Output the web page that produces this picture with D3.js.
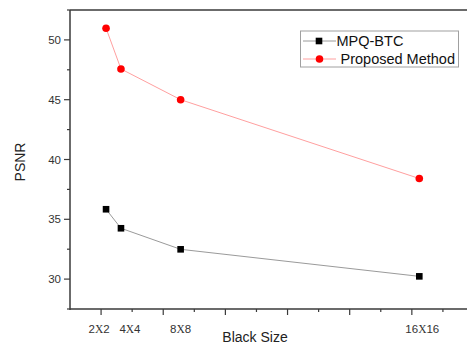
<!DOCTYPE html>
<html lang="en">
<head>
  <meta charset="UTF-8">
  <script src="https://d3js.org/d3.v7.min.js"></script>
  <style>
    body { margin: 0; background: #fff; }
    svg { display: block; font-family: "Liberation Sans", Arial, sans-serif; }
    .tick-label { font-size: 11.5px; fill: #333; }
    .title { font-size: 14px; fill: #222; }
    .legend text { font-size: 14.5px; fill: #111; }
  </style>
</head>
<body>
  <div id="chart"></div>
  <script>
    // block sizes (x = pixels per block: 2x2 -> 4, etc.)
    var blockNames = ["2X2", "4X4", "8X8", "16X16"];
    var blockArea = [4, 16, 64, 256];
    var mpqBtc = [35.84, 34.25, 32.49, 30.23];
    var proposed = [50.98, 47.57, 45.0, 38.41];
    var yMajor = [30, 35, 40, 45, 50];

    var width = 467, height = 345;
    var plotLeft = 70, plotTop = 10, plotBottom = 309;

    var svg = d3.select("#chart").append("svg")
      .attr("width", width)
      .attr("height", height);

    var x = d3.scaleLinear().domain([-25, 300]).range([plotLeft, 474]);
    var y = d3.scaleLinear().domain([27.5, 52.5]).range([plotBottom, plotTop]);

    var axisColor = "#3a3a3a";

    // frame: top line, left axis, bottom axis (no right side visible)
    svg.append("line").attr("x1", plotLeft).attr("x2", width).attr("y1", plotTop).attr("y2", plotTop)
      .attr("stroke", axisColor).attr("stroke-width", 1.5);
    svg.append("line").attr("x1", plotLeft).attr("x2", plotLeft).attr("y1", plotTop).attr("y2", plotBottom + 1)
      .attr("stroke", axisColor).attr("stroke-width", 1.5);
    svg.append("line").attr("x1", plotLeft).attr("x2", width).attr("y1", plotBottom).attr("y2", plotBottom)
      .attr("stroke", axisColor).attr("stroke-width", 1.5);

    // y ticks
    var yMinor = d3.range(27.5, 53, 5);
    svg.selectAll(".ymaj").data(yMajor).enter().append("line")
      .attr("x1", plotLeft - 6).attr("x2", plotLeft)
      .attr("y1", function (d) { return y(d); }).attr("y2", function (d) { return y(d); })
      .attr("stroke", axisColor).attr("stroke-width", 1.2);
    svg.selectAll(".ymin").data(yMinor).enter().append("line")
      .attr("x1", plotLeft - 3).attr("x2", plotLeft)
      .attr("y1", function (d) { return y(d); }).attr("y2", function (d) { return y(d); })
      .attr("stroke", axisColor).attr("stroke-width", 1.2);
    svg.selectAll(".ylab").data(yMajor).enter().append("text")
      .attr("class", "tick-label")
      .attr("x", plotLeft - 9)
      .attr("y", function (d) { return y(d); })
      .attr("dy", "0.36em")
      .attr("text-anchor", "end")
      .text(function (d) { return d; });

    // x ticks
    var xMajor = d3.range(0, 300, 50);
    var xMinor = d3.range(25, 300, 50);
    svg.selectAll(".xmaj").data(xMajor).enter().append("line")
      .attr("x1", function (d) { return x(d); }).attr("x2", function (d) { return x(d); })
      .attr("y1", plotBottom).attr("y2", plotBottom + 6)
      .attr("stroke", axisColor).attr("stroke-width", 1.2);
    svg.selectAll(".xmin").data(xMinor).enter().append("line")
      .attr("x1", function (d) { return x(d); }).attr("x2", function (d) { return x(d); })
      .attr("y1", plotBottom).attr("y2", plotBottom + 3)
      .attr("stroke", axisColor).attr("stroke-width", 1.2);

    // block-size labels, nudged so the two small ones do not collide
    var nudge = [-7, 9, 0, 3];
    var xl = svg.selectAll(".xlab").data(blockNames).enter().append("text")
      .attr("class", "tick-label")
      .attr("x", function (d, i) { return x(blockArea[i]) + nudge[i]; })
      .attr("y", 333)
      .attr("text-anchor", "middle");
    xl.each(function (d) {
      var parts = d.split("X");
      var t = d3.select(this);
      t.append("tspan").text(parts[0]);
      t.append("tspan").style("font-family", "'Liberation Serif', serif").text("X");
      t.append("tspan").text(parts[1]);
    });

    // axis titles
    svg.append("text").attr("class", "title")
      .attr("x", 255).attr("y", 342).attr("text-anchor", "middle")
      .text("Black Size");
    svg.append("text").attr("class", "title")
      .attr("transform", "translate(25,162) rotate(-90)")
      .attr("text-anchor", "middle")
      .text("PSNR");

    var line = d3.line()
      .x(function (d) { return x(d[0]); })
      .y(function (d) { return y(d[1]); });

    function pts(vals) { return blockArea.map(function (a, i) { return [a, vals[i]]; }); }

    // MPQ-BTC series
    svg.append("path").datum(pts(mpqBtc))
      .attr("d", line).attr("fill", "none")
      .attr("stroke", "#9a9a9a").attr("stroke-width", 1);
    svg.selectAll(".sq").data(pts(mpqBtc)).enter().append("rect")
      .attr("x", function (d) { return x(d[0]) - 3.3; })
      .attr("y", function (d) { return y(d[1]) - 3.3; })
      .attr("width", 6.6).attr("height", 6.6)
      .attr("fill", "#000");

    // Proposed series
    svg.append("path").datum(pts(proposed))
      .attr("d", line).attr("fill", "none")
      .attr("stroke", "#ff9f9f").attr("stroke-width", 1);
    svg.selectAll(".dot").data(pts(proposed)).enter().append("circle")
      .attr("cx", function (d) { return x(d[0]); })
      .attr("cy", function (d) { return y(d[1]); })
      .attr("r", 3.8)
      .attr("fill", "#ff0000");

    // legend
    var lg = svg.append("g").attr("class", "legend");
    lg.append("rect").attr("x", 300.5).attr("y", 31).attr("width", 158).attr("height", 36)
      .attr("fill", "#fff").attr("stroke", "#a0a0a0").attr("stroke-width", 1);
    lg.append("line").attr("x1", 303).attr("x2", 336).attr("y1", 41).attr("y2", 41)
      .attr("stroke", "#9a9a9a").attr("stroke-width", 1);
    lg.append("rect").attr("x", 319 - 3.3).attr("y", 41 - 3.3).attr("width", 6.6).attr("height", 6.6)
      .attr("fill", "#000");
    lg.append("text").attr("x", 336.5).attr("y", 41).attr("dy", "0.36em").text("MPQ-BTC");
    lg.append("line").attr("x1", 303).attr("x2", 336).attr("y1", 59).attr("y2", 59)
      .attr("stroke", "#ff9f9f").attr("stroke-width", 1);
    lg.append("circle").attr("cx", 319.5).attr("cy", 59).attr("r", 3.8).attr("fill", "#ff0000");
    lg.append("text").attr("x", 340.5).attr("y", 59).attr("dy", "0.36em").text("Proposed Method");
  </script>
</body>
</html>
